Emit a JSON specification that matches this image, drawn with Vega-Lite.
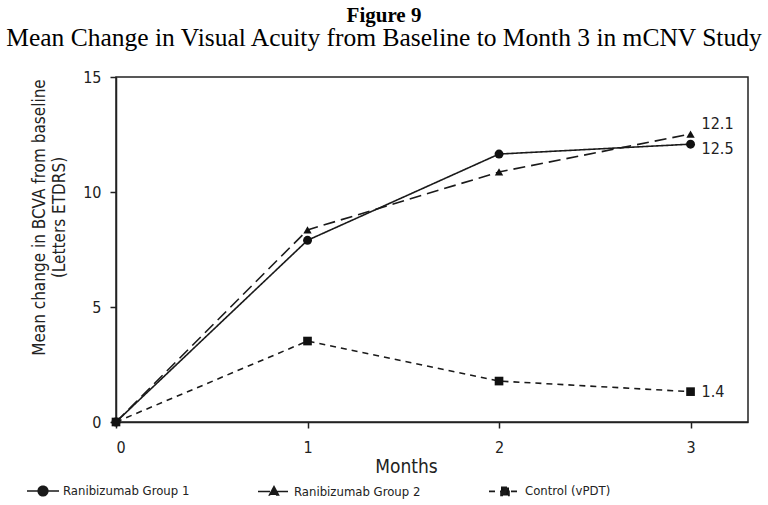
{
  "$schema": "https://vega.github.io/schema/vega-lite/v6.json",
  "autosize": "none",
  "width": 632,
  "height": 345,
  "padding": {"left": 116, "top": 77, "right": 20, "bottom": 83},
  "background": "white",
  "title": {
    "text": "Figure 9",
    "subtitle": "Mean Change in Visual Acuity from Baseline to Month 3 in mCNV Study",
    "font": "Liberation Serif",
    "subtitleFont": "Liberation Serif",
    "fontSize": 21,
    "subtitleFontSize": 25.5,
    "fontWeight": "bold",
    "color": "black",
    "subtitleColor": "black",
    "anchor": "middle",
    "dx": -48,
    "offset": 18,
    "subtitlePadding": 0
  },
  "config": {
    "view": {"stroke": "#222", "strokeWidth": 1.5},
    "font": "Liberation Sans Narrow, DejaVu Sans Condensed, Roboto",
    "axis": {
      "grid": false,
      "domainColor": "#222",
      "domainWidth": 1.5,
      "tickColor": "#222",
      "tickWidth": 1.5,
      "tickSize": 6,
      "labelFont": "Liberation Sans Narrow, DejaVu Sans Condensed, Roboto",
      "labelFontSize": 16,
      "labelColor": "#222",
      "titleFont": "Liberation Sans Narrow, DejaVu Sans Condensed, Roboto",
      "titleFontWeight": "normal",
      "titleColor": "#222"
    }
  },
  "datasets": {
    "series": [
      {"month": 0, "change": 0, "group": "Ranibizumab Group 1"},
      {"month": 1, "change": 7.9, "group": "Ranibizumab Group 1"},
      {"month": 2, "change": 11.65, "group": "Ranibizumab Group 1"},
      {"month": 3, "change": 12.08, "group": "Ranibizumab Group 1"},
      {"month": 0, "change": 0, "group": "Ranibizumab Group 2"},
      {"month": 1, "change": 8.35, "group": "Ranibizumab Group 2"},
      {"month": 2, "change": 10.87, "group": "Ranibizumab Group 2"},
      {"month": 3, "change": 12.52, "group": "Ranibizumab Group 2"},
      {"month": 0, "change": 0, "group": "Control (vPDT)"},
      {"month": 1, "change": 3.52, "group": "Control (vPDT)"},
      {"month": 2, "change": 1.78, "group": "Control (vPDT)"},
      {"month": 3, "change": 1.32, "group": "Control (vPDT)"}
    ],
    "endLabels": [
      {"month": 3, "pos": 12.95, "text": "12.1"},
      {"month": 3, "pos": 11.85, "text": "12.5"},
      {"month": 3, "pos": 1.32, "text": "1.4"}
    ]
  },
  "encoding": {
    "x": {
      "field": "month", "type": "quantitative",
      "scale": {"domain": [0, 3.3], "nice": false, "zero": false},
      "axis": {"values": [0, 1, 2, 3], "format": "d", "labelPadding": 11, "title": "Months", "titleFontSize": 19, "titlePadding": 2, "titleX": 290}
    },
    "y": {
      "field": "change", "type": "quantitative",
      "scale": {"domain": [0, 15], "nice": false},
      "axis": {"values": [0, 5, 10, 15], "labelPadding": 9, "title": ["Mean change in BCVA from baseline", "(Letters ETDRS)"], "titleFontSize": 17, "titleLineHeight": 20, "titlePadding": 14, "titleY": 140}
    }
  },
  "layer": [
    {
      "data": {"name": "series"},
      "mark": {"type": "line", "color": "#1a1a1a", "strokeWidth": 1.6},
      "encoding": {
        "strokeDash": {
          "field": "group", "type": "nominal",
          "scale": {"domain": ["Ranibizumab Group 1", "Ranibizumab Group 2", "Control (vPDT)"], "range": [[1, 0], [12, 6], [6, 5]]},
          "legend": {
            "orient": "none",
            "legendX": -90,
            "legendY": 397,
            "direction": "horizontal",
            "columns": 3,
            "columnPadding": 64,
            "gridAlign": "all",
            "title": null,
            "symbolSize": 1024,
            "symbolStrokeWidth": 1.6,
            "symbolFillColor": "#111",
            "symbolType": {"expr": "datum.label === 'Ranibizumab Group 1' ? 'M-1,0H1M0.3,0A0.3,0.3 0 1,1 -0.3,0A0.3,0.3 0 1,1 0.3,0ZM0.2,0A0.2,0.2 0 1,1 -0.2,0A0.2,0.2 0 1,1 0.2,0ZM0.1,0A0.1,0.1 0 1,1 -0.1,0A0.1,0.1 0 1,1 0.1,0ZM0.04,0A0.04,0.04 0 1,1 -0.04,0A0.04,0.04 0 1,1 0.04,0Z' : datum.label === 'Ranibizumab Group 2' ? 'M-1,0H1M0,-0.3L0.28,0.22L-0.28,0.22ZM0,-0.161L0.168,0.151L-0.168,0.151ZM0,-0.04L0.07,0.09L-0.07,0.09Z' : 'M-1,0H1M-0.25,-0.25H0.25V0.25H-0.25ZM-0.15,-0.15H0.15V0.15H-0.15ZM-0.05,-0.05H0.05V0.05H-0.05Z'"},
            "labelFont": "Liberation Sans Narrow, DejaVu Sans Condensed, Roboto",
            "labelFontSize": 13,
            "labelColor": "#222",
            "labelOffset": 3,
            "labelLimit": 400,
            "encode": {
              "symbols": {
                "fill": {"value": "#111"},
                "stroke": {"value": "#111"},
                "strokeWidth": {"value": 1.6}
              }
            }
          }
        }
      }
    },
    {
      "data": {"name": "series"},
      "transform": [{"filter": "datum.group === 'Ranibizumab Group 1'"}],
      "mark": {"type": "point", "shape": "circle", "filled": true, "opacity": 1, "color": "#111", "size": 80}
    },
    {
      "data": {"name": "series"},
      "transform": [{"filter": "datum.group === 'Ranibizumab Group 2'"}],
      "mark": {"type": "point", "shape": "triangle-up", "filled": true, "opacity": 1, "color": "#111", "size": 70}
    },
    {
      "data": {"name": "series"},
      "transform": [{"filter": "datum.group === 'Control (vPDT)'"}],
      "mark": {"type": "point", "shape": "square", "filled": true, "opacity": 1, "color": "#111", "size": 75}
    },
    {
      "data": {"name": "endLabels"},
      "mark": {"type": "text", "align": "left", "baseline": "middle", "dx": 11, "fontSize": 16, "font": "Liberation Sans Narrow, DejaVu Sans Condensed, Roboto", "color": "#222"},
      "encoding": {
        "y": {"field": "pos", "type": "quantitative"},
        "text": {"field": "text"}
      }
    }
  ]
}
